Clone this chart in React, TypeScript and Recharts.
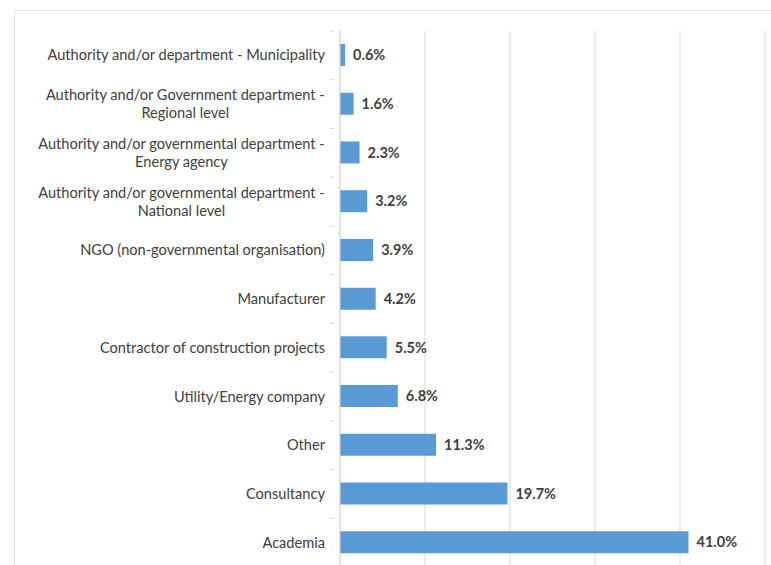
import React from "react";
import { BarChart, Bar, XAxis, YAxis, CartesianGrid, LabelList } from "recharts";

const categories = [
  "Authority and/or department - Municipality",
  "Authority and/or Government department -\nRegional level",
  "Authority and/or governmental department -\nEnergy agency",
  "Authority and/or governmental department -\nNational level",
  "NGO (non-governmental organisation)",
  "Manufacturer",
  "Contractor of construction projects",
  "Utility/Energy company",
  "Other",
  "Consultancy",
  "Academia",
];
const shares = [0.6, 1.6, 2.3, 3.2, 3.9, 4.2, 5.5, 6.8, 11.3, 19.7, 41.0];
const xTicks = [0, 10, 20, 30, 40, 50];

const data = categories.map((c, i) => ({ name: c, value: shares[i] }));

const FONT = "Lato, 'Liberation Sans', sans-serif";
const FS = 14.6;
const TXT = "#404040";
const BAND = (567 - 31) / 11;

let ctx: CanvasRenderingContext2D | null = null;
function measure(s: string): number {
  if (!ctx) {
    ctx = document.createElement("canvas").getContext("2d");
  }
  if (!ctx) return s.length * 7;
  ctx.font = `${FS}px Lato`;
  return ctx.measureText(s).width;
}

const CatTick = (props: any) => {
  const { x, y, payload } = props;
  const lines = String(payload.value).split("\n");
  const right = x;
  const lh = 18;
  const axisX = x + 9;
  const tickMark = (
    <line x1={axisX - 5} x2={axisX} y1={y - BAND / 2} y2={y - BAND / 2} stroke="#d9d9d9" />
  );
  if (lines.length === 1) {
    return (
      <g>
        {tickMark}
        <text x={right} y={y} dy="0.35em" textAnchor="end" fontFamily={FONT} fontSize={FS} fill={TXT}>
          {lines[0]}
        </text>
      </g>
    );
  }
  const w = Math.max(...lines.map(measure));
  const cx = right - w / 2;
  const y0 = y - ((lines.length - 1) * lh) / 2;
  return (
    <g>
      {tickMark}
      {lines.map((l, i) => (
        <text key={i} x={cx} y={y0 + i * lh} dy="0.35em" textAnchor="middle" fontFamily={FONT} fontSize={FS} fill={TXT}>
          {l}
        </text>
      ))}
    </g>
  );
};

export default function App() {
  return (
    <div style={{ position: "absolute", left: 0, top: 0, width: 771, height: 565, overflow: "hidden", background: "#fff" }}>
      <div style={{ position: "absolute", left: 14, top: 10, width: 800, height: 600, border: "1px solid #e3e3e3", boxSizing: "border-box" }} />
      <div style={{ position: "absolute", left: 0, top: 0 }}>
        <BarChart
          width={771}
          height={570}
          data={data}
          layout="vertical"
          margin={{ top: 31, right: 6, bottom: 3, left: 0 }}
        >
          <CartesianGrid horizontal={false} stroke="#d9d9d9" />
          <XAxis type="number" domain={[0, 50]} ticks={xTicks} hide />
          <YAxis
            type="category"
            dataKey="name"
            width={340}
            tickLine={false}
            axisLine={{ stroke: "#d9d9d9" }}
            tickMargin={9}
            tick={<CatTick />}
            interval={0}
          />
          <Bar dataKey="value" fill="#5B9BD5" barSize={22} isAnimationActive={false}>
            <LabelList
              dataKey="value"
              position="right"
              offset={8}
              formatter={(v: any) => `${Number(v).toFixed(1)}%`}
              style={{ fontFamily: FONT, fontSize: 14.5, fontWeight: 700, fill: TXT }}
            />
          </Bar>
        </BarChart>
      </div>
    </div>
  );
}
